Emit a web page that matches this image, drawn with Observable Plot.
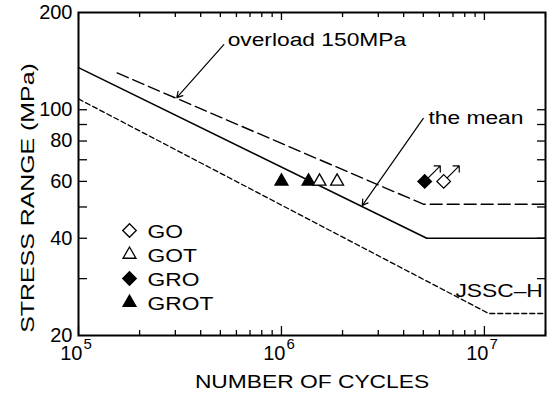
<!DOCTYPE html>
<html>
<head>
<meta charset="utf-8">
<script src="https://cdn.jsdelivr.net/npm/d3@7"></script>
<script src="https://cdn.jsdelivr.net/npm/@observablehq/plot@0.6"></script>
<style>
  body { margin: 0; background: #fff; }
  #chart svg { display: block; }
</style>
</head>
<body>
<div id="chart"></div>
<script>
// S–N design curves (number of cycles, stress range in MPa)
const meanCycles = [1e5, 5.2e6, 2e7];
const meanStress = [135, 40, 40];
const overloadCycles = [1.55e5, 5.0e6, 2e7];
const overloadStress = [130, 51, 51];
const jsscCycles = [1e5, 1.05e7, 2e7];
const jsscStress = [108, 23.4, 23.4];

// Test results
const specimenType = ["GROT", "GROT", "GOT", "GOT", "GRO", "GO"];
const specimenCycles = [1.0e6, 1.36e6, 1.54e6, 1.88e6, 5.08e6, 6.3e6];
const specimenStress = [60, 60, 60, 60, 60, 60];
const specimenRunout = [false, false, false, false, true, true];

// Legend entries and axis labels
const seriesNames = ["GO", "GOT", "GRO", "GROT"];
const yTickLabels = [20, 40, 60, 80, 100, 200];
const yTickValues = [30, 40, 50, 60, 70, 80, 90, 100];
const xExponents = [5, 6, 7];
const xMinorMantissas = [2, 3, 4, 5, 6, 7, 8, 9];

// Curve annotations: label anchor and arrow (tail -> tip)
const annotLabels = ["overload 150MPa", "the mean", "JSSC–H"];
const annotCycles = [5.43e5, 5.3e6, 7.2e6];
const annotStress = [165, 94.6, 27.4];
const arrowTailCycles = [5.2e5, 5.0e6];
const arrowTailStress = [159, 94];
const arrowTipCycles = [3.05e5, 2.5e6];
const arrowTipStress = [109, 50.5];

// ---- tables built from the arrays above ----
const toRows = (ns, ss) => ns.map((n, i) => ({n, s: ss[i]}));
const meanLine = toRows(meanCycles, meanStress);
const overloadLine = toRows(overloadCycles, overloadStress);
const jsscLine = toRows(jsscCycles, jsscStress);
const specimens = specimenCycles.map((n, i) => ({
  type: specimenType[i], n, s: specimenStress[i], runout: specimenRunout[i]
}));
const annotations = annotLabels.map((label, i) => ({label, n: annotCycles[i], s: annotStress[i]}));
const arrows = arrowTailCycles.map((n, i) => ({
  n1: n, s1: arrowTailStress[i], n2: arrowTipCycles[i], s2: arrowTipStress[i]
}));
const xMajor = xExponents.map(e => 10 ** e);
const xMinor = [5, 6].flatMap(e => xMinorMantissas.map(m => m * 10 ** e)).concat([2e7]);

const isDiamond = t => t === "GO" || t === "GRO";
const symbolOf = t => isDiamond(t) ? "diamond2" : "triangle";
const radiusOf = t => isDiamond(t) ? 6.1 : 4.8;
const fillOf = t => (t === "GRO" || t === "GROT") ? "black" : "white";

// ---- layout ----
const W = 549, H = 394;
const mL = 78, mR = 4, mT = 12, mB = 59;
const frameW = W - mL - mR, frameH = H - mT - mB;
const font = "'Liberation Sans', Arial, Helvetica, sans-serif";

const legendMarks = seriesNames.flatMap((name, i) => [
  Plot.dot([name], {
    frameAnchor: "top-left", dx: 51, dy: 218 + 24 * i,
    symbol: symbolOf(name), r: radiusOf(name),
    fill: fillOf(name), stroke: "black", strokeWidth: 1.3
  }),
  Plot.text([name], {
    text: d => d, frameAnchor: "top-left", dx: 69, dy: 219 + 24 * i,
    textAnchor: "start", lineAnchor: "middle", fontSize: 19, fill: "black"
  })
]);

const chart = Plot.plot({
  width: W, height: H,
  marginLeft: mL, marginRight: mR, marginTop: mT, marginBottom: mB,
  style: {fontFamily: font, fontSize: "19px", background: "white", color: "black", overflow: "visible"},
  x: {type: "log", domain: [1e5, 2e7], axis: null},
  y: {type: "log", domain: [20, 200], axis: null},
  r: {type: "identity"},
  marks: [
    // inward ticks on all four sides
    Plot.tickX(xMajor, {x: d => d, insetTop: frameH - 9, stroke: "black", strokeWidth: 1.3}),
    Plot.tickX(xMinor, {x: d => d, insetTop: frameH - 5, stroke: "black", strokeWidth: 1.3}),
    Plot.tickX(xMajor, {x: d => d, insetBottom: frameH - 8, stroke: "black", strokeWidth: 1.3}),
    Plot.tickX(xMinor, {x: d => d, insetBottom: frameH - 5, stroke: "black", strokeWidth: 1.3}),
    Plot.tickY(yTickValues, {y: d => d, insetRight: frameW - 9, stroke: "black", strokeWidth: 1.3}),
    Plot.tickY(yTickValues, {y: d => d, insetLeft: frameW - 8, stroke: "black", strokeWidth: 1.3}),

    // design curves
    Plot.line(jsscLine, {x: "n", y: "s", stroke: "black", strokeWidth: 1.3, strokeDasharray: "5,3"}),
    Plot.line(overloadLine, {x: "n", y: "s", stroke: "black", strokeWidth: 1.4, strokeDasharray: "12,5"}),
    Plot.line(meanLine, {x: "n", y: "s", stroke: "black", strokeWidth: 1.6}),

    // curve annotations
    Plot.arrow(arrows, {x1: "n1", y1: "s1", x2: "n2", y2: "s2", stroke: "black", strokeWidth: 1.2, headLength: 8}),
    Plot.text(annotations, {x: "n", y: "s", text: "label", textAnchor: "start", fontSize: 19, fill: "black"}),

    // run-out arrows, then specimens
    Plot.vector(specimens.filter(d => d.runout), {
      x: "n", y: "s", rotate: 45, length: 22, anchor: "start", stroke: "black", strokeWidth: 1.2
    }),
    Plot.dot(specimens, {
      x: "n", y: "s", symbol: d => symbolOf(d.type), r: d => radiusOf(d.type),
      fill: d => fillOf(d.type), stroke: "black", strokeWidth: 1.3
    }),

    ...legendMarks,

    // axis tick labels
    Plot.text(yTickLabels, {y: d => d, text: d => String(d), frameAnchor: "left", dx: -6, textAnchor: "end", lineAnchor: "middle", fontSize: 20, fill: "black"}),
    Plot.text(xExponents, {x: e => 10 ** e, text: () => "10", frameAnchor: "bottom", dx: 4, dy: 18, textAnchor: "end", lineAnchor: "middle", fontSize: 20, fill: "black"}),
    Plot.text(xExponents, {x: e => 10 ** e, text: e => String(e), frameAnchor: "bottom", dx: 5, dy: 9, textAnchor: "start", lineAnchor: "middle", fontSize: 15, fill: "black"}),

    // axis titles
    Plot.text(["NUMBER OF CYCLES"], {text: d => d, frameAnchor: "bottom", dy: 46, textAnchor: "middle", lineAnchor: "middle", fontSize: 19, fill: "black"}),
    Plot.text(["STRESS RANGE (MPa)"], {text: d => d, frameAnchor: "left", dx: -51, dy: 24, rotate: -90, textAnchor: "middle", lineAnchor: "middle", fontSize: 19, fill: "black"}),

    Plot.frame({stroke: "black", strokeWidth: 2})
  ]
});

document.getElementById("chart").appendChild(chart);

// The lettering is set in a wide grotesque: widen word labels along their
// own baseline, around their anchor point (works for rotated text too).
const widen = {"STRESS RANGE (MPa)": 1.31};
chart.querySelectorAll("text").forEach(t => {
  const s = t.textContent;
  if (/[A-Za-z]/.test(s)) {
    const k = widen[s] || 1.2;
    const tr = t.getAttribute("transform") || "";
    t.setAttribute("transform", `${tr} scale(${k},1)`.trim());
  }
});
</script>
</body>
</html>
